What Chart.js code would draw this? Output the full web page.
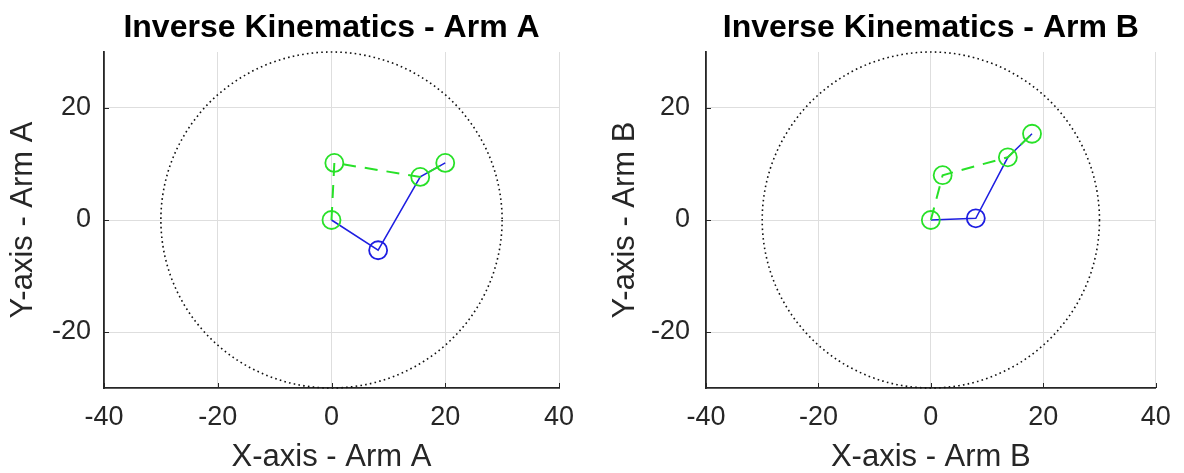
<!DOCTYPE html>
<html>
<head>
<meta charset="utf-8">
<title>Inverse Kinematics</title>
<script src="https://cdn.jsdelivr.net/npm/chart.js@4.4.0/dist/chart.umd.min.js"></script>
<style>
  html, body { margin: 0; padding: 0; background: #fff; overflow: hidden; }
  #wrap { position: relative; width: 1184px; height: 473px; }
  canvas { position: absolute; top: 0; }
  #chartA { left: 0; }
  #chartB { left: 592px; }
</style>
</head>
<body>
<div id="wrap">
  <canvas id="chartA" width="592" height="473"></canvas>
  <canvas id="chartB" width="592" height="473"></canvas>
</div>
<script>
// ticks shared by both panels
const xTicks = [-40, -20, 0, 20, 40];
const yTicks = [-20, 0, 20];
const reach = 30; // radius of the dotted workspace circle

// Arm A: blue = arm links, green = dashed target path
const armALinkX = [0, 8.2, 15.6, 20];
const armALinkY = [0, -5.4, 7.7, 10.2];
const armATargetX = [0, 0.5, 15.6, 20];
const armATargetY = [0, 10.2, 7.7, 10.2];

// Arm B
const armBLinkX = [0, 8, 13.7, 18];
const armBLinkY = [0, 0.3, 11.2, 15.4];
const armBTargetX = [0, 2.1, 13.7, 18];
const armBTargetY = [0, 8, 11.2, 15.4];

const FONT = "'Liberation Sans', Arial, Helvetica, sans-serif";
const TEXT = "#262626";
const BLUE = "rgb(30, 30, 225)";
const GREEN = "rgb(40, 225, 40)";

const toPoints = (xs, ys) => xs.map((x, i) => ({ x: x, y: ys[i] }));

// dotted circle of reach + small inward tick marks like matlab
const workspacePlugin = {
  id: "workspace",
  beforeDatasetsDraw(chart) {
    const { ctx } = chart;
    const x = chart.scales.x;
    const y = chart.scales.y;
    const cx = x.getPixelForValue(0);
    const cy = y.getPixelForValue(0);
    const rx = x.getPixelForValue(reach) - cx;
    const ry = cy - y.getPixelForValue(reach);
    ctx.save();
    ctx.strokeStyle = "#111";
    ctx.lineWidth = 1.6;
    ctx.setLineDash([1.6, 3.2]);
    ctx.beginPath();
    ctx.ellipse(cx, cy, rx, ry, 0, 0, Math.PI * 2);
    ctx.stroke();
    ctx.restore();
  },
  afterDraw(chart) {
    const { ctx, chartArea } = chart;
    const x = chart.scales.x;
    const y = chart.scales.y;
    ctx.save();
    ctx.strokeStyle = TEXT;
    ctx.lineWidth = 1;
    ctx.beginPath();
    yTicks.forEach((v) => {
      const py = Math.round(y.getPixelForValue(v)) + 0.5;
      ctx.moveTo(chartArea.left, py);
      ctx.lineTo(chartArea.left + 5, py);
    });
    xTicks.forEach((v) => {
      const px = Math.round(x.getPixelForValue(v)) + 0.5;
      ctx.moveTo(px, chartArea.bottom);
      ctx.lineTo(px, chartArea.bottom - 5);
    });
    ctx.stroke();
    ctx.restore();
  },
};

function makeChart(id, cfg) {
  const ctx = document.getElementById(id);
  return new Chart(ctx, {
    type: "scatter",
    data: {
      datasets: [
        {
          label: "target",
          data: toPoints(cfg.targetX, cfg.targetY),
          showLine: true,
          borderColor: GREEN,
          borderWidth: 2,
          borderDash: [13, 9],
          pointStyle: "circle",
          pointRadius: 9,
          pointBorderWidth: 1.8,
          pointBorderColor: GREEN,
          pointBackgroundColor: "rgba(0,0,0,0)",
          order: 0,
        },
        {
          label: "links",
          data: toPoints(cfg.linkX, cfg.linkY),
          showLine: true,
          borderColor: BLUE,
          borderWidth: 1.5,
          pointStyle: "circle",
          pointRadius: [0, 9, 0, 0],
          pointBorderWidth: 1.8,
          pointBorderColor: BLUE,
          pointBackgroundColor: "rgba(0,0,0,0)",
          order: 1,
        },
      ],
    },
    options: {
      responsive: false,
      devicePixelRatio: 1,
      animation: false,
      layout: { padding: { left: 0, right: cfg.rightPad, top: 0, bottom: 0 } },
      plugins: {
        legend: { display: false },
        tooltip: { enabled: false },
        title: {
          display: true,
          text: cfg.title,
          fullSize: false,
          color: "#000",
          font: { family: FONT, size: 32, weight: "bold", lineHeight: 1.2 },
          padding: { top: 8.8, bottom: 4.8 },
        },
      },
      scales: {
        x: {
          type: "linear",
          min: -40,
          max: 40,
          afterBuildTicks: (s) => { s.ticks = xTicks.map((v) => ({ value: v })); },
          afterFit: (s) => { s.height = 85; },
          grid: { color: "#dedede", lineWidth: 1, drawTicks: false },
          border: { display: true, color: TEXT, width: 1.8 },
          ticks: { color: TEXT, padding: 13.3, maxRotation: 0, font: { family: FONT, size: 27 } },
          title: {
            display: true,
            text: cfg.xLabel,
            color: TEXT,
            font: { family: FONT, size: 31, lineHeight: 1.0 },
            padding: { top: 0, bottom: 0 },
          },
        },
        y: {
          type: "linear",
          min: -30,
          max: 30,
          afterBuildTicks: (s) => { s.ticks = yTicks.map((v) => ({ value: v })); },
          afterFit: (s) => { s.width = cfg.yWidth; },
          grid: { color: "#dedede", lineWidth: 1, drawTicks: false },
          border: { display: true, color: TEXT, width: 1.8 },
          ticks: { color: TEXT, padding: cfg.yTickPad, font: { family: FONT, size: 27 } },
          title: {
            display: true,
            text: cfg.yLabel,
            color: TEXT,
            font: { family: FONT, size: 31, lineHeight: 1.2 },
            padding: { top: cfg.yTitlePad, bottom: 0 },
          },
        },
      },
    },
    plugins: [workspacePlugin],
  });
}

makeChart("chartA", {
  title: "Inverse Kinematics - Arm A",
  xLabel: "X-axis - Arm A",
  yLabel: "Y-axis - Arm A",
  linkX: armALinkX, linkY: armALinkY,
  targetX: armATargetX, targetY: armATargetY,
  yWidth: 104, yTickPad: 13, yTitlePad: 5, rightPad: 33,
});

makeChart("chartB", {
  title: "Inverse Kinematics - Arm B",
  xLabel: "X-axis - Arm B",
  yLabel: "Y-axis - Arm B",
  linkX: armBLinkX, linkY: armBLinkY,
  targetX: armBTargetX, targetY: armBTargetY,
  yWidth: 114, yTickPad: 16, yTitlePad: 15, rightPad: 21,
});
</script>
</body>
</html>
